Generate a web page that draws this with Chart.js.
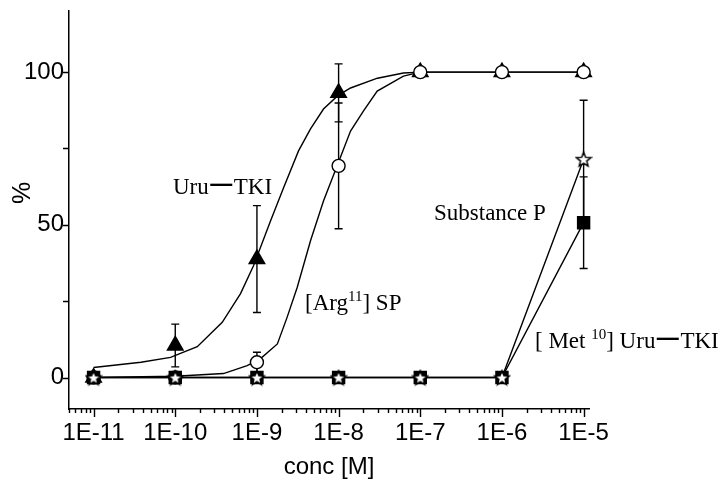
<!DOCTYPE html>
<html>
<head>
<meta charset="utf-8">
<script src="https://cdn.jsdelivr.net/npm/chart.js@4"></script>
<style>
  html, body { margin: 0; padding: 0; background: #fff; }
</style>
</head>
<body>
<canvas id="myChart" width="727" height="480"></canvas>
<script>
// concentrations (M) of the measured points
const concs = [1e-11, 1e-10, 1e-9, 1e-8, 1e-7, 1e-6, 1e-5];

// mean response (%) and error for each peptide
const uruMean = [0, 10.5, 38.8, 93.2, 100, 100, 100];
const uruErr = [0, 7, 17.5, 9.5, 0, 0, 0];
const argMean = [0, 0, 5.0, 69.3, 100, 100, 100];
const argErr = [0, 0, 3.3, 20.6, 0, 0, 0];
const spMean = [0, 0, 0, 0, 0, 0, 71.5];
const spErr = [0, 0, 0, 0, 0, 0, 19.3];
const metMean = [0, 0, 0, 0, 0, 0, 50.7];
const metErr = [0, 0, 0, 0, 0, 0, 15];

// fitted curves
const uruCurveX = [1e-11, 3.8e-11, 8.75e-11, 1.86e-10, 3.76e-10, 6.3e-10, 9.08e-10, 1.47e-9, 2.12e-9, 3.23e-9, 4.53e-9, 6.53e-9, 9.7e-9, 1.4e-8, 2.99e-8, 6.22e-8, 1e-7, 1e-6, 1e-5];
const uruCurveY = [3.3, 5.0, 6.6, 10.1, 18.1, 27.5, 36.6, 51.3, 62.1, 74.2, 81.4, 87.9, 92.2, 94.8, 98.0, 99.7, 100, 100, 100];
const argCurveX = [1e-11, 1e-10, 3.89e-10, 7.59e-10, 1.107e-9, 1.78e-9, 2.34e-9, 3.11e-9, 4.53e-9, 6.53e-9, 9.6e-9, 1.4e-8, 2.02e-8, 2.97e-8, 6.22e-8, 1e-7, 1e-6, 1e-5];
const argCurveY = [0, 0.4, 1.3, 3.9, 6.2, 11, 19.7, 29.5, 44.8, 57.8, 69.3, 80.7, 87.3, 93.8, 98.7, 100, 100, 100];

// axis ticks
const xMajor = [1e-11, 1e-10, 1e-9, 1e-8, 1e-7, 1e-6, 1e-5];
const xLabels = ["1E-11", "1E-10", "1E-9", "1E-8", "1E-7", "1E-6", "1E-5"];
const yTicks = [0, 25, 50, 75, 100];
const yLabels = ["0", "", "50", "", "100"];

const X_MIN = 5e-12, X_MAX = 1.164e-5;

const xTicks = [];
[1e-12].concat(xMajor).forEach((d) => {
  for (let m = 1; m <= 9; m++) {
    const v = m === 1 ? d : m * d;
    if (v >= X_MIN && v <= X_MAX) xTicks.push(v);
  }
});

const pts = (xs, ys) => xs.map((x, i) => ({ x: x, y: ys[i] }));

const makeStar = () => {
  const c = document.createElement("canvas");
  c.width = 18; c.height = 18;
  const g = c.getContext("2d");
  g.beginPath();
  for (let i = 0; i < 10; i++) {
    const r = i % 2 === 0 ? 7.5 : 3.3;
    const a = -Math.PI / 2 + i * Math.PI / 5;
    const px = 9 + r * Math.cos(a), py = 9.8 + r * Math.sin(a);
    if (i === 0) g.moveTo(px, py); else g.lineTo(px, py);
  }
  g.closePath();
  g.fillStyle = "#fff"; g.fill();
  g.lineWidth = 1.5; g.strokeStyle = "#000"; g.stroke();
  return c;
};

const errorBars = {
  id: "errorBars",
  beforeDatasetsDraw(chart) {
    const { ctx, scales: { x, y } } = chart;
    ctx.save();
    ctx.strokeStyle = "#000";
    ctx.lineWidth = 1.4;
    chart.data.datasets.forEach((ds) => {
      if (!ds.errors) return;
      ds.data.forEach((p, i) => {
        const e = ds.errors[i];
        if (!e) return;
        const px = x.getPixelForValue(p.x);
        const top = y.getPixelForValue(p.y + e);
        const bot = y.getPixelForValue(p.y - e);
        ctx.beginPath();
        ctx.moveTo(px, top); ctx.lineTo(px, bot);
        ctx.moveTo(px - 4, top); ctx.lineTo(px + 4, top);
        ctx.moveTo(px - 4, bot); ctx.lineTo(px + 4, bot);
        ctx.stroke();
      });
    });
    ctx.restore();
  }
};

// text labels; kind 0 = normal, 1 = superscript, 2 = stretched dash
const notes = [
  { parts: [["Uru", 0], ["－", 2], ["TKI", 0]], x: 173, y: 194 },
  { parts: [["Substance P", 0]], x: 434, y: 220 },
  { parts: [["[Arg", 0], ["11", 1], ["] SP", 0]], x: 305, y: 310 },
  { parts: [["[ Met ", 0], ["10", 1], ["] Uru", 0], ["－", 2], ["TKI", 0]], x: 535, y: 348 }
];

const extras = {
  id: "extras",
  afterDraw(chart) {
    const { ctx, chartArea: a, scales: { x, y } } = chart;
    ctx.save();
    ctx.strokeStyle = "#000";
    ctx.lineWidth = 1.4;
    ctx.beginPath();
    x.ticks.forEach((t) => {
      const px = Math.round(x.getPixelForValue(t.value)) + 0.5;
      const len = xMajor.includes(t.value) ? 8 : 4;
      ctx.moveTo(px, a.bottom);
      ctx.lineTo(px, a.bottom + len);
    });
    y.ticks.forEach((t) => {
      const py = Math.round(y.getPixelForValue(t.value)) + 0.5;
      ctx.moveTo(a.left, py);
      ctx.lineTo(a.left - 6, py);
    });
    ctx.stroke();

    ctx.fillStyle = "#000";
    ctx.textBaseline = "alphabetic";
    ctx.textAlign = "left";
    notes.forEach((n) => {
      let cx = n.x;
      n.parts.forEach(([txt, kind]) => {
        if (kind === 2) {
          ctx.font = "bold 23px 'Noto Sans CJK JP'";
          ctx.save();
          ctx.translate(cx + 12.5, n.y - 1);
          ctx.scale(1.35, 1);
          ctx.textAlign = "center";
          ctx.fillText(txt, 0, 0);
          ctx.restore();
          cx += 25;
          return;
        }
        ctx.font = kind === 1 ? "15px 'Liberation Serif'" : "23px 'Liberation Serif'";
        ctx.fillText(txt, cx, kind === 1 ? n.y - 9 : n.y);
        cx += ctx.measureText(txt).width;
      });
    });

    ctx.translate(23, 193);
    ctx.rotate(-Math.PI / 2);
    ctx.font = "25px 'Liberation Sans'";
    ctx.textAlign = "center";
    ctx.textBaseline = "middle";
    ctx.fillText("%", 0, 0);
    ctx.restore();
  }
};

const lineBase = { borderColor: "#000", borderWidth: 1.4, clip: false };

new Chart("myChart", {
  type: "scatter",
  data: {
    datasets: [
      Object.assign({}, lineBase, {
        label: "Substance P",
        data: pts(concs, spMean),
        errors: spErr,
        showLine: true,
        pointStyle: makeStar(),
        order: 1
      }),
      Object.assign({}, lineBase, {
        label: "[Met10] Uru-TKI",
        data: pts(concs, metMean),
        errors: metErr,
        showLine: true,
        pointStyle: "rect",
        pointRadius: 8.5,
        backgroundColor: "#000",
        order: 2
      }),
      Object.assign({}, lineBase, {
        label: "[Arg11] SP",
        data: pts(concs, argMean),
        errors: argErr,
        showLine: false,
        pointStyle: "circle",
        pointRadius: 6.5,
        backgroundColor: "#fff",
        order: 3
      }),
      Object.assign({}, lineBase, {
        label: "Uru-TKI",
        data: pts(concs, uruMean),
        errors: uruErr,
        showLine: false,
        pointStyle: "triangle",
        pointRadius: 9,
        backgroundColor: "#000",
        order: 4
      }),
      Object.assign({}, lineBase, {
        label: "Arg fit",
        data: pts(argCurveX, argCurveY),
        showLine: true,
        pointRadius: 0,
        order: 5
      }),
      Object.assign({}, lineBase, {
        label: "Uru fit",
        data: pts(uruCurveX, uruCurveY),
        showLine: true,
        pointRadius: 0,
        order: 6
      })
    ]
  },
  options: {
    responsive: false,
    devicePixelRatio: 1,
    animation: false,
    layout: { padding: { top: 9, right: 138, left: 0, bottom: 0 } },
    plugins: { legend: { display: false }, tooltip: { enabled: false } },
    font: { family: "'Liberation Sans'" },
    scales: {
      x: {
        type: "logarithmic",
        bounds: "data",
        min: X_MIN,
        max: X_MAX,
        afterBuildTicks: (s) => { s.ticks = xTicks.map((v) => ({ value: v })); },
        afterFit: (s) => { s.height = 71; s.paddingLeft = 0; s.paddingRight = 0; },
        grid: { display: true, drawOnChartArea: false, drawTicks: false, tickLength: 0 },
        border: { display: true, color: "#000", width: 1.5 },
        ticks: {
          autoSkip: false,
          maxRotation: 0,
          padding: 10,
          color: "#000",
          font: { family: "'Liberation Sans'", size: 24 },
          callback: (v) => {
            const i = xMajor.indexOf(v);
            return i >= 0 ? xLabels[i] : "";
          }
        },
        title: {
          display: true,
          text: "conc [M]",
          color: "#000",
          font: { family: "'Liberation Sans'", size: 24, lineHeight: 1 },
          padding: { top: 0, bottom: 1 }
        }
      },
      y: {
        type: "linear",
        bounds: "data",
        min: -10.3,
        max: 120.2,
        afterBuildTicks: (s) => { s.ticks = yTicks.map((v) => ({ value: v })); },
        afterFit: (s) => { s.width = 69; s.paddingTop = 0; s.paddingBottom = 0; },
        grid: { display: true, drawOnChartArea: false, drawTicks: false, tickLength: 0 },
        border: { display: true, color: "#000", width: 1.5 },
        ticks: {
          padding: 5,
          color: "#000",
          font: { family: "'Liberation Sans'", size: 24 },
          callback: (v) => {
            const i = yTicks.indexOf(v);
            return i >= 0 ? yLabels[i] : "";
          }
        }
      }
    }
  },
  plugins: [errorBars, extras]
});
</script>
</body>
</html>
